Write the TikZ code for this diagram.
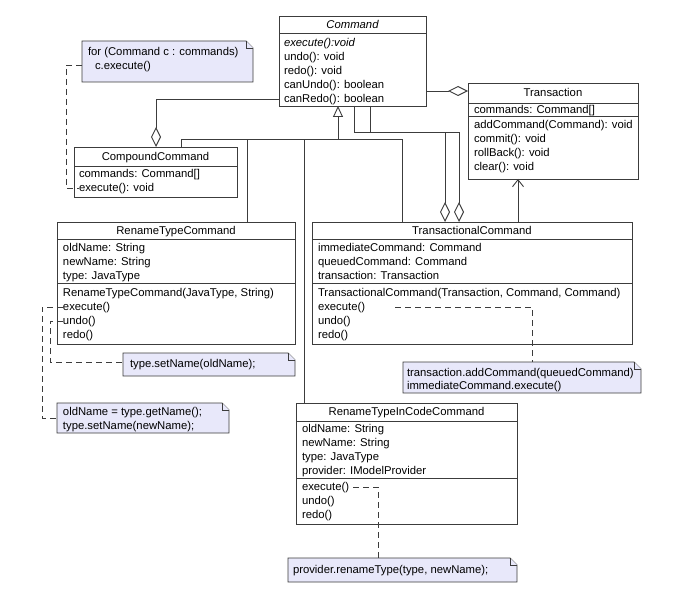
\documentclass[tikz,border=0pt]{standalone}
\usepackage{fontspec}
\setmainfont{Liberation Sans}
\usetikzlibrary{arrows.meta}
\definecolor{linec}{RGB}{60,60,60}
\definecolor{notefill}{RGB}{232,232,250}
\newcommand\fs{\fontsize{11.3pt}{14pt}\selectfont}
\newcommand\sepline[2]{\draw[line] ([yshift=-#2pt]#1.north west) -- ([yshift=-#2pt]#1.north east);}
\newcommand\drawnote[1]{%
  \filldraw[notestroke] (#1.north west) -- ([xshift=-7pt]#1.north east) -- ([yshift=-7pt]#1.north east) -- (#1.south east) -- (#1.south west) -- cycle;
  \draw[notestroke] ([xshift=-7pt]#1.north east) |- ([yshift=-7pt]#1.north east);}
\begin{document}
\begin{tikzpicture}[x=1pt,y=-1pt,
  line/.style={draw=linec, line width=0.9pt},
  cls/.style={draw=linec, fill=white, line width=0.9pt, inner sep=0pt, outer sep=0pt, anchor=north west},
  notebox/.style={inner sep=0pt, outer sep=0pt, anchor=north west},
  notestroke/.style={draw=linec, fill=notefill, line width=0.9pt, line join=miter},
  txt/.style={anchor=west, inner sep=0pt, outer sep=0pt, text height=8.5pt, text depth=1.5pt, font=\fs},
  ttl/.style={anchor=center, inner sep=0pt, outer sep=0pt, text height=8.5pt, text depth=1.5pt, font=\fs},
  dsh/.style={draw=linec, line width=0.9pt, dash pattern=on 6pt off 4pt},
  agg/.style={line, -{Diamond[open, length=20pt, width=10pt]}},
  gen/.style={line, -{Triangle[open, length=11pt, width=10pt]}},
  nav/.style={line, -{Straight Barb[length=7pt, width=11pt]}}
]
\useasboundingbox (0,0) rectangle (673,599);

% ---------- class boxes ----------
\node[cls, minimum width=147pt, minimum height=90pt] (cmd) at (279,16) {};
\sepline{cmd}{17}
\node[ttl, font=\fs\itshape] (cmdT) at (352.5,25) {Command};
\node[txt, font=\fs\itshape] (cmd1) at (284,43) {execute():void};
\node[txt] (cmd2) at (284,57) {undo(): void};
\node[txt] (cmd3) at (284,71) {redo(): void};
\node[txt] (cmd4) at (284,85) {canUndo(): boolean};
\node[txt] (cmd5) at (284,99) {canRedo(): boolean};

\node[cls, minimum width=170pt, minimum height=96pt] (tr) at (468,83) {};
\sepline{tr}{20}
\sepline{tr}{33}
\node[ttl] (trT) at (553,93) {Transaction};
\node[txt] (tr1) at (474,110) {commands: Command[]};
\node[txt] (tr2) at (474,125) {addCommand(Command): void};
\node[txt] (tr3) at (474,139) {commit(): void};
\node[txt] (tr4) at (474,153) {rollBack(): void};
\node[txt] (tr5) at (474,167) {clear(): void};

\node[cls, minimum width=163pt, minimum height=50pt] (cc) at (74,147) {};
\sepline{cc}{19}
\node[ttl] (ccT) at (155.5,157) {CompoundCommand};
\node[txt] (cc1) at (79,174) {commands: Command[]};
\node[txt] (ccexec) at (79,188) {execute(): void};

\node[cls, minimum width=238pt, minimum height=122pt] (rtc) at (57,222) {};
\sepline{rtc}{17}
\sepline{rtc}{61}
\node[ttl] (rtcT) at (176,231) {RenameTypeCommand};
\node[txt] (rtc1) at (63,248) {oldName: String};
\node[txt] (rtc2) at (63,262) {newName: String};
\node[txt] (rtc3) at (63,276) {type: JavaType};
\node[txt] (rtc4) at (63,293) {RenameTypeCommand(JavaType, String)};
\node[txt] (rtcexec) at (63,307) {execute()};
\node[txt] (rtcundo) at (63,321) {undo()};
\node[txt] (rtc7) at (63,335) {redo()};

\node[cls, minimum width=320pt, minimum height=122pt] (tc) at (312,222) {};
\sepline{tc}{17}
\sepline{tc}{61}
\node[ttl] (tcT) at (472,231) {TransactionalCommand};
\node[txt] (tc1) at (318,248) {immediateCommand: Command};
\node[txt] (tc2) at (318,262) {queuedCommand: Command};
\node[txt] (tc3) at (318,276) {transaction: Transaction};
\node[txt] (tc4) at (318,293) {TransactionalCommand(Transaction, Command, Command)};
\node[txt] (tcexec) at (318,307) {execute()};
\node[txt] (tc6) at (318,321) {undo()};
\node[txt] (tc7) at (318,335) {redo()};

\node[cls, minimum width=221pt, minimum height=121pt] (ritc) at (296,403) {};
\sepline{ritc}{18}
\sepline{ritc}{75}
\node[ttl] (ritcT) at (406.5,412) {RenameTypeInCodeCommand};
\node[txt] (ritc1) at (302,429) {oldName: String};
\node[txt] (ritc2) at (302,443) {newName: String};
\node[txt] (ritc3) at (302,457) {type: JavaType};
\node[txt] (ritc4) at (302,471) {provider: IModelProvider};
\node[txt] (ritcexec) at (302,487) {execute()};
\node[txt] (ritc6) at (302,501) {undo()};
\node[txt] (ritc7) at (302,515) {redo()};

% ---------- notes ----------
\node[notebox, minimum width=171pt, minimum height=41pt] (n1) at (82,41) {};
\drawnote{n1}
\node[txt] (n1a) at (88,52) {for (Command c : commands)};
\node[txt] (n1b) at (95,66) {c.execute()};

\node[notebox, minimum width=172pt, minimum height=23pt] (n2) at (123,353) {};
\drawnote{n2}
\node[txt] (n2a) at (130,364) {type.setName(oldName);};

\node[notebox, minimum width=172pt, minimum height=30pt] (n3) at (57,403) {};
\drawnote{n3}
\node[txt] (n3a) at (63,412) {oldName = type.getName();};
\node[txt] (n3b) at (63,426) {type.setName(newName);};

\node[notebox, minimum width=238pt, minimum height=31pt] (n4) at (403,362) {};
\drawnote{n4}
\node[txt] (n4a) at (407,373) {transaction.addCommand(queuedCommand)};
\node[txt] (n4b) at (407,386) {immediateCommand.execute()};

\node[notebox, minimum width=229pt, minimum height=24pt] (n5) at (288,558) {};
\drawnote{n5}
\node[txt] (n5a) at (293,570) {provider.renameType(type, newName);};

% ---------- generalization tree ----------
\coordinate (hub) at (338,139);
\draw[gen] (hub) -- (hub |- cmd.south);
\draw[line] ([xshift=107pt]cc.north west) |- (hub);
\draw[line] ([xshift=190pt]rtc.north west) |- (hub);
\draw[line] ([xshift=8pt]ritc.north west) |- (hub);
\draw[line] ([xshift=90pt]tc.north west) |- (hub);

% ---------- aggregations ----------
\draw[agg] ([yshift=-83pt]cmd.north west) -| ([xshift=82pt]cc.north west);
\draw[agg] ([yshift=-75pt]cmd.north east) -- ([yshift=-8pt]tr.north west);
\draw[agg] ([xshift=75pt]cmd.south west) |- (459,132) -- ([xshift=147pt]tc.north west);
\draw[agg] ([xshift=91pt]cmd.south west) |- (445,132) -- ([xshift=133pt]tc.north west);

% ---------- navigable association ----------
\draw[nav] ([xshift=206pt]tc.north west) -- ([xshift=50pt]tr.south west);

% ---------- note links ----------
\draw[dsh] ([yshift=-24pt]n1.north west) -- ++(-16,0) |- (ccexec.west);
\draw[dsh] (rtcundo.west) -- ++(-13,0) |- ([yshift=-9pt]n2.north west);
\draw[dsh] (rtcexec.west) -- ++(-21,0) |- (n3.west);
\draw[dsh] ([xshift=30pt]tcexec.east) -| ([xshift=129pt]n4.north west);
\draw[dsh] ([xshift=4pt]ritcexec.east) -| ([xshift=90pt]n5.north west);
\end{tikzpicture}
\end{document}
